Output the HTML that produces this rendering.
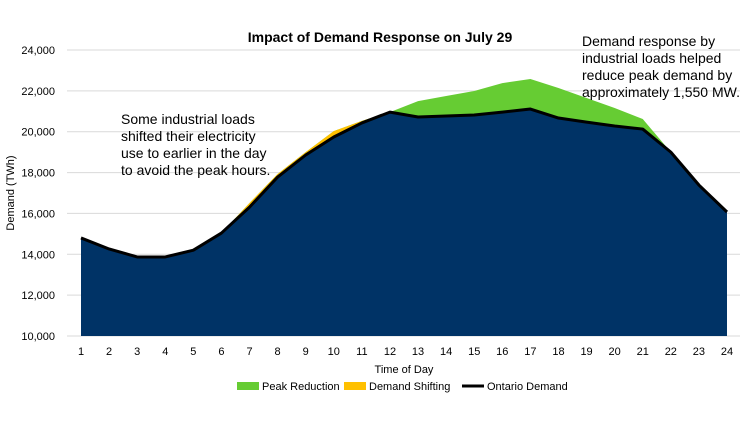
<!DOCTYPE html>
<html><head><meta charset="utf-8"><style>
body{margin:0;background:#fff;font-family:"Liberation Sans",sans-serif}
svg text{font-family:"Liberation Sans",sans-serif}
</style></head><body>
<svg id="c" width="750" height="422" xmlns="http://www.w3.org/2000/svg">
<text x="380" y="42" text-anchor="middle" font-size="14" font-weight="bold" font-family="Liberation Serif">Impact of Demand Response on July 29</text>
<g id="grid"></g><g id="areas"></g><g id="axes"></g>
<text transform="translate(14,193) rotate(-90)" text-anchor="middle" font-size="11">Demand (TWh)</text>
<text x="404" y="373" text-anchor="middle" font-size="11">Time of Day</text>
<g font-size="14">
<text x="121" y="124">Some industrial loads</text><text x="121" y="141">shifted their electricity</text><text x="121" y="158">use to earlier in the day</text><text x="121" y="175">to avoid the peak hours.</text></g>
<g font-size="14">
<text x="582" y="46">Demand response by</text><text x="582" y="63">industrial loads helped</text><text x="582" y="80">reduce peak demand by</text><text x="582" y="97">approximately 1,550 MW.</text></g>
<g font-size="11">
<rect x="237" y="382" width="22" height="8" fill="#66cc33"/><text x="262" y="390">Peak Reduction</text>
<rect x="344" y="382" width="22" height="8" fill="#ffc000"/><text x="369" y="390">Demand Shifting</text>
<line x1="462" y1="386" x2="484" y2="386" stroke="#000" stroke-width="3"/><text x="487" y="390">Ontario Demand</text>
</g>
</svg>
<script>
const hours=[1,2,3,4,5,6,7,8,9,10,11,12,13,14,15,16,17,18,19,20,21,22,23,24];
const ontarioDemand=[14800,14260,13870,13870,14200,15040,16310,17780,18860,19740,20430,20960,20720,20770,20820,20960,21110,20670,20470,20280,20130,19000,17390,16070];
const withShifting=[14800,14260,13870,13870,14200,15040,16510,17930,19000,20030,20530,20960,20720,20770,20820,20960,21110,20670,20470,20280,20130,19000,17390,16070];
const withPeak=[14800,14260,13870,13870,14200,15040,16510,17930,19000,20030,20530,20960,21500,21750,21990,22380,22580,22140,21650,21160,20620,19000,17390,16070];
const yTicks=[10000,12000,14000,16000,18000,20000,22000,24000];
const NS="http://www.w3.org/2000/svg";
const x=h=>81+(h-1)*(727-81)/23;
const y=v=>336-(v-10000)*(336-50)/14000;
function mk(p,t,a){const e=document.createElementNS(NS,t);for(const k in a)e.setAttribute(k,a[k]);document.getElementById(p).appendChild(e);return e;}
yTicks.forEach(v=>{
 const l=mk('grid','line',{x1:67,x2:740,y1:y(v),y2:y(v),stroke:'#d9d9d9'});
 
 
 const t=mk('axes','text',{x:55,y:y(v)+4,'text-anchor':'end','font-size':11});
 t.textContent=v.toLocaleString('en-US');
 
 
});
hours.forEach(h=>{
 const t=mk('axes','text',{x:x(h),y:355,'text-anchor':'middle','font-size':11});
 t.textContent=h;
 
 
});
function area(vals,fill,name){
 let d='M'+x(hours[0])+','+y(10000);
 vals.forEach((v,i)=>d+=' L'+x(hours[i])+','+y(v));
 d+=' L'+x(hours[hours.length-1])+','+y(10000)+' Z';
 const p=mk('areas','path',{d:d,fill:fill});
 
 
}
area(withPeak,'#66cc33','peak-reduction-area');
area(withShifting,'#ffc000','demand-shifting-area');
area(ontarioDemand,'#003366','ontario-demand-area');
const ln=mk('areas','polyline',{points:ontarioDemand.map((v,i)=>x(hours[i])+','+y(v)).join(' '),fill:'none',stroke:'#000','stroke-width':3,'stroke-linejoin':'round'});


</script>
</body></html>
